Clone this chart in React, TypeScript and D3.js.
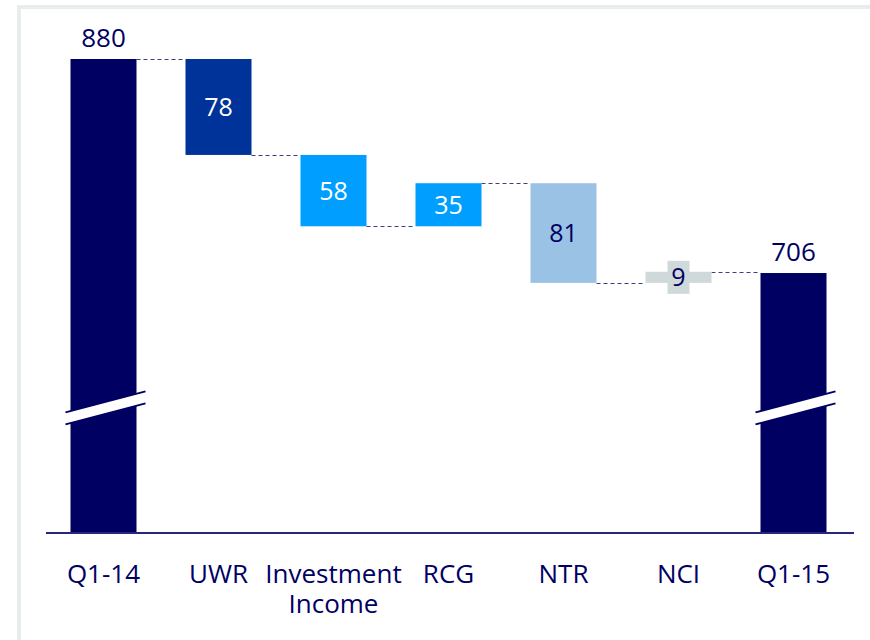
import React from "react";
import * as d3 from "d3";

const categories = ["Q1-14", "UWR", "Investment Income", "RCG", "NTR", "NCI", "Q1-15"];
const categoryLines = [["Q1-14"], ["UWR"], ["Investment", "Income"], ["RCG"], ["NTR"], ["NCI"], ["Q1-15"]];
const kinds = ["total", "delta", "delta", "delta", "delta", "delta", "total"];
const values = [880, -78, -58, 35, -81, 9, 706];
const valueLabels = ["880", "78", "58", "35", "81", "9", "706"];
const colors = ["#000062", "#003399", "#009fff", "#009fff", "#99c2e4", "#d0d9d9", "#000062"];
const labelColors = ["#000062", "#ffffff", "#ffffff", "#ffffff", "#000062", "#000062", "#000062"];

const W = 870;
const H = 640;
const BASE = 532;
const BREAK_Y = 408.5;
const FONT = "'Open Sans', 'Noto Sans', sans-serif";
const NAVY = "#000062";

export default function App() {
  const x = d3
    .scaleBand<string>()
    .domain(categories)
    .range([46, 851])
    .paddingInner(0.426)
    .paddingOuter(0.213);
  const y = d3.scaleLinear().domain([600, 900]).range([403.4, 34.4]);
  const bw = x.bandwidth();

  let running = 0;
  const bars = categories.map((c, i) => {
    let y0: number, y1: number, level: number;
    if (kinds[i] === "total") {
      running = values[i];
      y0 = y(values[i]);
      y1 = BASE;
      level = values[i];
    } else {
      const start = running;
      running = running + values[i];
      y0 = y(Math.max(start, running));
      y1 = y(Math.min(start, running));
      level = running;
    }
    return { c, i, x: x(c)!, y0, y1, level };
  });

  const breakPath = (cx: number) => {
    const slope = -21 / 80;
    const xl = cx - 38;
    const xr = cx + 42;
    const yAt = (xx: number, off: number) => BREAK_Y + off + slope * (xx - cx);
    return { xl, xr, yAt };
  };

  return (
    <svg
      width={W}
      height={H}
      style={{ position: "absolute", left: 0, top: 0, background: "#fff" }}
      fontFamily={FONT}
    >
      <rect x={19} y={7} width={W + 20} height={H + 20} fill="none" stroke="#e8ecec" strokeWidth={4} />

      {bars.slice(0, -1).map((b, i) => {
        const next = bars[i + 1];
        const ly = kinds[i] === "total" ? y(values[i]) : y(b.level);
        return (
          <line
            key={"c" + i}
            x1={b.x + bw}
            x2={next.x}
            y1={Math.round(ly) + 0.5}
            y2={Math.round(ly) + 0.5}
            stroke="#3f3f85"
            strokeWidth={1.1}
            strokeDasharray="4,3"
          />
        );
      })}

      {bars.map((b) => (
        <rect key={"b" + b.i} x={b.x} y={b.y0} width={bw} height={b.y1 - b.y0} fill={colors[b.i]} />
      ))}

      {bars
        .filter((b) => kinds[b.i] === "total")
        .map((b) => {
          const cx = b.x + bw / 2;
          const { xl, xr, yAt } = breakPath(cx);
          return (
            <g key={"br" + b.i}>
              <polygon
                points={`${xl},${yAt(xl, -6)} ${xr},${yAt(xr, -6)} ${xr},${yAt(xr, 6)} ${xl},${yAt(xl, 6)}`}
                fill="#fff"
              />
              <line x1={xl} y1={yAt(xl, -6)} x2={xr} y2={yAt(xr, -6)} stroke={NAVY} strokeWidth={1.8} />
              <line x1={xl} y1={yAt(xl, 6)} x2={xr} y2={yAt(xr, 6)} stroke={NAVY} strokeWidth={1.8} />
            </g>
          );
        })}

      <line x1={46} x2={854} y1={BASE + 1} y2={BASE + 1} stroke="#26267a" strokeWidth={2} />

      {bars.map((b) => {
        const cx = b.x + bw / 2;
        if (kinds[b.i] === "total") {
          return (
            <text key={"v" + b.i} x={cx} y={b.y0 - 12} textAnchor="middle" fontSize={26} fill={NAVY}>
              {valueLabels[b.i]}
            </text>
          );
        }
        const mid = (b.y0 + b.y1) / 2;
        const small = b.y1 - b.y0 < 30;
        return (
          <g key={"v" + b.i}>
            {small && <rect x={cx - 11} y={mid - 16.5} width={22} height={33} fill={colors[b.i]} />}
            <text x={cx} y={mid + 9} textAnchor="middle" fontSize={25} fill={labelColors[b.i]}>
              {valueLabels[b.i]}
            </text>
          </g>
        );
      })}

      {categories.map((c, i) => (
        <text key={"x" + i} textAnchor="middle" fontSize={26} fill={NAVY}>
          {categoryLines[i].map((ln, j) => (
            <tspan key={j} x={x(c)! + bw / 2} y={583 + j * 30}>
              {ln}
            </tspan>
          ))}
        </text>
      ))}
    </svg>
  );
}
